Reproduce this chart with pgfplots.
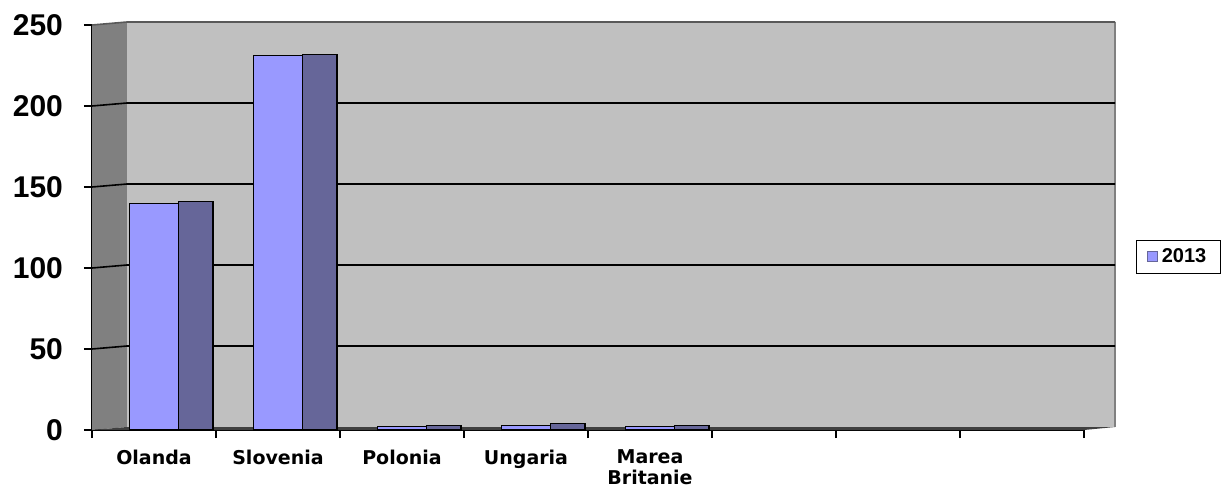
\documentclass[border=0pt]{standalone}
\usepackage{fontspec}
\setmainfont{Liberation Sans}
\newfontfamily\xfont{DejaVu Sans}
\usepackage{pgfplots}
\pgfplotsset{compat=1.18}
\definecolor{front}{HTML}{9999FF}
\definecolor{side}{HTML}{666699}
\definecolor{wall}{HTML}{C0C0C0}
\definecolor{sidewall}{HTML}{808080}
\definecolor{floorc}{HTML}{404040}
\begin{document}
\begin{tikzpicture}[x=1pt,y=1pt]
\path[use as bounding box] (0,0) rectangle (615,244);
\begin{axis}[
  at={(46pt,29pt)}, anchor=south west,
  width=496pt, height=202.5pt, scale only axis,
  xmin=0, xmax=8, ymin=0, ymax=250,
  clip=false,
  axis lines*=left,
  axis line style={black, line width=0.8pt},
  tick align=outside,
  major tick length=4pt,
  tick style={black, line width=0.8pt},
  ytick={0,50,...,250},
  /pgf/number format/assume math mode=true,
  yticklabel style={font=\bfseries\fontsize{15}{17}\selectfont, xshift=-7pt},
  xtick={0,1,...,8},
  xticklabels={},
  extra x ticks={0.5,1.5,2.5,3.5,4.5},
  extra x tick labels={Olanda,Slovenia,Polonia,Ungaria,Marea\\Britanie},
  extra x tick style={major tick length=0pt},
  xticklabel style={font=\xfont\bfseries\fontsize{9.5}{10.5}\selectfont, align=center, anchor=north, yshift=-6.5pt},
  legend style={at={(1.0524,0.428)}, anchor=west, draw=black, line width=0.6pt,
    font=\bfseries\fontsize{10}{12}\selectfont, inner xsep=5pt, inner ysep=2pt},
  legend cell align=left,
]
% side wall, back wall, floor
\fill[sidewall] (axis cs:0,0) -- (axis cs:0.282,1.85) -- (axis cs:0.282,251.85) -- (axis cs:0,250) -- cycle;
\fill[wall] (axis cs:0.282,1.85) rectangle (axis cs:8.25,251.85);
\fill[floorc] (axis cs:0,0) -- (axis cs:8,0) -- (axis cs:8.25,1.85) -- (axis cs:0.282,1.85) -- cycle;
\draw[gray, line width=0.8pt] (axis cs:8.25,1.85) -- (axis cs:8.25,251.85);
\pgfplotsinvokeforeach{50,100,150,200}{
  \draw[black, line width=0.8pt] (axis cs:0,#1) -- (axis cs:0.282,#1+1.85) -- (axis cs:8.25,#1+1.85);
}
\draw[gray!70!black, line width=0.8pt] (axis cs:0,250) -- (axis cs:0.282,251.85) -- (axis cs:8.25,251.85);
\addplot[ybar, bar width=0.276, bar shift=0.338, fill=side, draw=black, line width=0.6pt, forget plot]
  coordinates {(0.5,141) (1.5,232) (2.5,3) (3.5,4) (4.5,3)};
\addplot[ybar, bar width=0.395, bar shift=0.003, fill=front, draw=black, line width=0.6pt,
  legend image code/.code={\draw[fill=front, draw=side, line width=0.6pt] (0pt,-2.5pt) rectangle (5pt,2.5pt);}]
  coordinates {(0.5,140) (1.5,231) (2.5,2) (3.5,3) (4.5,2)};
\addlegendentry{2013}
\end{axis}
\end{tikzpicture}
\end{document}
